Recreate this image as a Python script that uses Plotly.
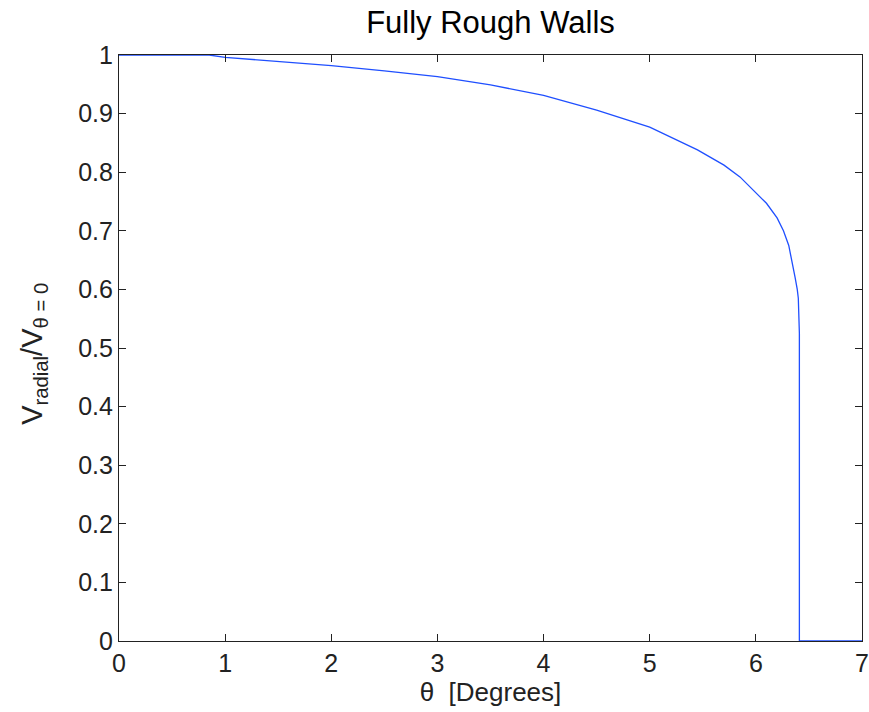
import plotly.graph_objects as go

theta_deg = [0, 0.85, 1.0, 1.5, 2.0, 2.5, 3.0, 3.5, 4.0, 4.5, 5.0, 5.45, 5.7, 5.85, 6.0,
             6.1, 6.2, 6.26, 6.31, 6.34, 6.37, 6.39, 6.40, 6.41, 6.41, 7.0]
v_ratio = [1, 1, 0.996, 0.989, 0.982, 0.973, 0.963, 0.949, 0.931, 0.906, 0.877, 0.838,
           0.812, 0.792, 0.766, 0.747, 0.722, 0.70, 0.675, 0.65, 0.62, 0.60, 0.585, 0.525, 0, 0]

x_ticks = [0, 1, 2, 3, 4, 5, 6, 7]
y_ticks = [0, 0.1, 0.2, 0.3, 0.4, 0.5, 0.6, 0.7, 0.8, 0.9, 1]
y_tick_labels = ["0", "0.1", "0.2", "0.3", "0.4", "0.5", "0.6", "0.7", "0.8", "0.9", "1"]

fig = go.Figure()
fig.add_trace(go.Scatter(x=theta_deg, y=v_ratio, mode="lines",
                         line=dict(color="#1f4fff", width=1.3), showlegend=False,
                         cliponaxis=False))

font = "Liberation Sans, Arial, sans-serif"
axis_common = dict(showline=True, linecolor="#222", linewidth=1.2, mirror="allticks",
                   ticks="inside", ticklen=7, tickcolor="#222", tickwidth=1.2,
                   showgrid=False, zeroline=False, automargin=False,
                   tickfont=dict(family=font, size=25, color="#222"))

fig.update_layout(
    width=869, height=712,
    margin=dict(l=119, r=7, t=55, b=71, autoexpand=False),
    paper_bgcolor="white", plot_bgcolor="white",
    title=dict(text="Fully Rough Walls", xref="paper", x=0.5, xanchor="center",
               yref="container", y=0.969, yanchor="middle", automargin=False,
               font=dict(family=font, size=31, color="black")),
    xaxis=dict(range=[0, 7], tickvals=x_ticks, ticktext=[str(v) for v in x_ticks],
               title=dict(text="θ  [Degrees]", standoff=2,
                          font=dict(family=font, size=26, color="#222")),
               **axis_common),
    yaxis=dict(range=[0, 1], tickvals=y_ticks, ticktext=y_tick_labels, **axis_common),
    annotations=[dict(text="V<sub>radial</sub>/V<sub>θ = 0</sub>", textangle=-90,
                      xref="paper", yref="paper", x=0, y=0.49, xanchor="center",
                      yanchor="middle", xshift=-85, showarrow=False,
                      font=dict(family=font, size=29, color="#222"))],
)

fig.write_html("out.html", config={"displayModeBar": False},
               post_script="document.body.style.margin='0';")
